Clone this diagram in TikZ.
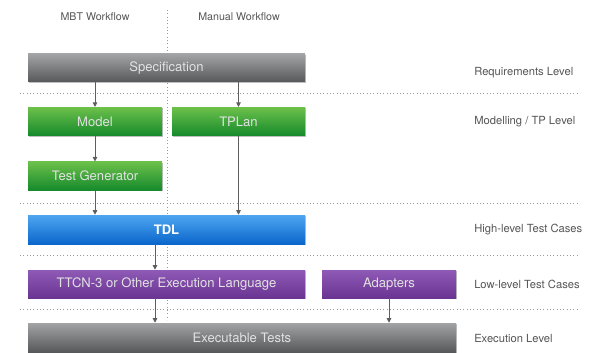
\documentclass[tikz,border=0pt]{standalone}
\usepackage{fontspec}
\setmainfont{TeX Gyre Heros}
\usetikzlibrary{shadows,arrows.meta}
\definecolor{grayT}{HTML}{A2A3A4}
\definecolor{grayB}{HTML}{56585A}
\definecolor{greenT}{HTML}{6CC04A}
\definecolor{greenB}{HTML}{158A2C}
\definecolor{blueT}{HTML}{4EA6F0}
\definecolor{blueB}{HTML}{0A66CC}
\definecolor{purpT}{HTML}{8E5AB6}
\definecolor{purpB}{HTML}{6A3592}
\definecolor{txtc}{HTML}{555555}
\definecolor{boxtxt}{HTML}{E2E2E2}
\definecolor{arr}{HTML}{5E5E5E}
\tikzset{
  box/.style={draw=none, inner sep=0pt, font=\fontsize{9.8}{11}\selectfont, text=boxtxt,
    drop shadow={shadow xshift=0.9pt, shadow yshift=-0.9pt, fill=black, opacity=0.25}},
  graybox/.style={box, top color=grayT, bottom color=grayB},
  greenbox/.style={box, top color=greenT, bottom color=greenB},
  bluebox/.style={box, top color=blueT, bottom color=blueB, text=white, font=\fontsize{9.8}{11}\selectfont\bfseries},
  purpbox/.style={box, top color=purpT, bottom color=purpB},
  lvl/.style={anchor=west, text=txtc, font=\fontsize{8.4}{10}\selectfont, inner sep=0pt},
  hdr/.style={text=txtc, font=\fontsize{8}{10}\selectfont, inner sep=0pt},
  sep/.style={draw=gray!80, line width=0.5pt, dotted},
  flow/.style={draw=arr, line width=0.7pt, -{Triangle[length=3.5pt,width=3.5pt]}}
}
\begin{document}
\begin{tikzpicture}[x=0.75pt,y=-0.75pt]
\useasboundingbox (0,0) rectangle (607,353);
% separators
\draw[sep] (167,10) -- (167,320);
\draw[sep] (20,93) -- (577,93);
\draw[sep] (20,203.5) -- (577,203.5);
\draw[sep] (20,255.5) -- (577,255.5);
\draw[sep] (20,309.5) -- (577,309.5);
% headers
\node[hdr] (h1) at (95,17) {MBT Workflow};
\node[hdr] (h2) at (239,17) {Manual Workflow};
% boxes
\node[graybox, minimum width=277*0.75pt, minimum height=28*0.75pt] (spec) at (166.5,68) {Specification};
\node[greenbox, minimum width=134*0.75pt, minimum height=28.5*0.75pt] (model) at (95,121.5) {Model};
\node[greenbox, minimum width=133*0.75pt, minimum height=28.5*0.75pt] (tplan) at (238.5,121.5) {TPLan};
\node[greenbox, minimum width=134*0.75pt, minimum height=28.5*0.75pt] (tgen) at (95,176) {Test Generator};
\node[bluebox, minimum width=277*0.75pt, minimum height=29*0.75pt] (tdl) at (166.5,229.5) {TDL};
\node[purpbox, minimum width=277*0.75pt, minimum height=28*0.75pt] (ttcn) at (166.5,284) {TTCN-3 or Other Execution Language};
\node[purpbox, minimum width=134*0.75pt, minimum height=28*0.75pt] (adapt) at (389,284) {Adapters};
\node[graybox, minimum width=428*0.75pt, minimum height=29*0.75pt] (exec) at (242,337.5) {Executable Tests};
% level labels
\node[lvl] (l1) at (474,73) {Requirements Level};
\node[lvl] (l2) at (474,122) {Modelling / TP Level};
\node[lvl] (l3) at (474,230) {High-level Test Cases};
\node[lvl] (l4) at (474,284) {Low-level Test Cases};
\node[lvl] (l5) at (474,338) {Execution Level};
% connector anchor points
\coordinate (c1) at ([xshift=-11.5*0.75pt]tdl.south);
\coordinate (c2) at ([xshift=-11.5*0.75pt]ttcn.south);
% arrows
\draw[flow] (spec.south -| model.north) -- (model.north);
\draw[flow] (spec.south -| tplan.north) -- (tplan.north);
\draw[flow] (model) -- (tgen);
\draw[flow] (tgen.south) -- (tdl.north -| tgen.south);
\draw[flow] (tplan.south) -- (tdl.north -| tplan.south);
\draw[flow] (c1) -- (c1 |- ttcn.north);
\draw[flow] (c2) -- (c2 |- exec.north);
\draw[flow] (adapt.south) -- (adapt.south |- exec.north);
\end{tikzpicture}
\end{document}
